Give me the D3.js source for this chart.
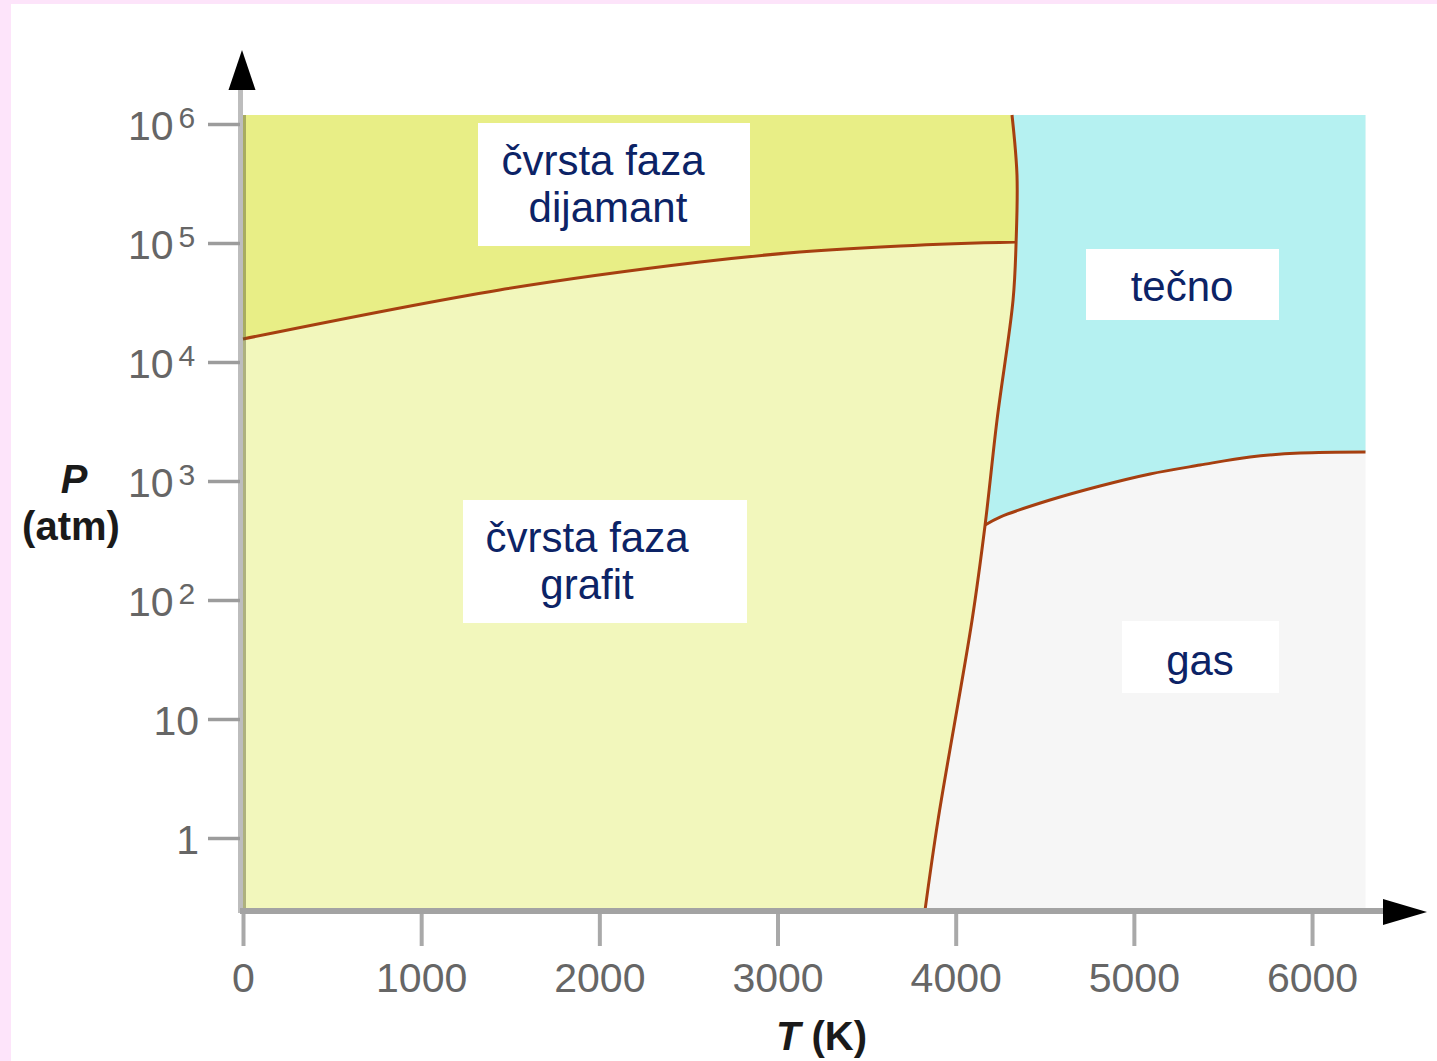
<!DOCTYPE html>
<html>
<head>
<meta charset="utf-8">
<script src="https://cdn.jsdelivr.net/npm/d3@7"></script>
<style>
  html, body { margin: 0; padding: 0; background: #fff; }
  svg { display: block; }
  text { font-family: "Liberation Sans", Arial, sans-serif; }
</style>
</head>
<body>
<svg id="chart" width="1437" height="1061"></svg>
<script>
// ---- Axis definitions ----
const tempDomain = [0, 6300];                       // T (K)
const tempTicks = [0, 1000, 2000, 3000, 4000, 5000, 6000];
const pressExtent = [0.248, 1.19e6];                // P (atm), log scale
const pressTicks = [1, 10, 100, 1e3, 1e4, 1e5, 1e6];
const pressTickBase = ["1", "10", "10", "10", "10", "10", "10"];
const pressTickExp = ["", "", "2", "3", "4", "5", "6"];

// ---- Phase boundaries of carbon ----
// diamond / graphite coexistence, left to right
const diamondGraphiteT = [0, 1440, 2565, 3125, 3690, 4339];
const diamondGraphiteP = [15600, 40300, 69200, 83900, 94400, 102000];
// solid / liquid (and solid / gas) line, top to bottom
const meltingT = [4316, 4344, 4339, 4322, 4232, 4165, 4092, 3901, 3828];
const meltingP = [1.19e6, 3.72e5, 102000, 33200, 3260, 427, 67.9, 1.42, 0.248];
// liquid / gas line, from the triple point to the right
const liquidGasT = [4165, 4249, 4529, 4810, 5091, 5371, 5652, 5933, 6300];
const liquidGasP = [427, 498, 692, 908, 1146, 1361, 1592, 1718, 1754];

// ---- Region labels ----
const regionNames = ["diamond", "graphite", "liquid", "gas"];
const regionLines = [["čvrsta faza", "dijamant"], ["čvrsta faza", "grafit"], ["tečno"], ["gas"]];

// ---- Styling ----
const W = 1437, H = 1061;
const colors = {
  diamond: "#e8ee86",
  graphite: "#f2f7bc",
  liquid: "#b5f1f1",
  gas: "#f6f6f6",
  boundary: "#a63f10",
  axis: "#a9a9a9",
  tickText: "#666666",
  label: "#0c2366",
  frame: "#fde4fa"
};

const svg = d3.select("#chart");
svg.append("rect").attr("width", W).attr("height", H).attr("fill", "#fff");
svg.append("rect").attr("x", 0).attr("y", 0).attr("width", 11).attr("height", H).attr("fill", colors.frame);
svg.append("rect").attr("x", 0).attr("y", 0).attr("width", W).attr("height", 4).attr("fill", colors.frame);

const x = d3.scaleLinear().domain(tempDomain).range([243, 1365.5]);
const y = d3.scaleLog().domain([1, 1e6]).range([838, 124]);

const [Tmin, Tmax] = tempDomain;
const [Pmin, Pmax] = pressExtent;

const zip = (T, P) => T.map((t, i) => [t, P[i]]);
const melt = zip(meltingT, meltingP);
const dg = zip(diamondGraphiteT, diamondGraphiteP);
const lg = zip(liquidGasT, liquidGasP);

const line = d3.line()
  .x(d => x(d[0]))
  .y(d => y(d[1]))
  .curve(d3.curveCatmullRom.alpha(0.5));

const pt = (t, p) => `${x(t)},${y(p)}`;

// axis line underneath the plot fill
svg.append("line")
  .attr("x1", 240.5).attr("x2", 240.5).attr("y1", 88).attr("y2", 913)
  .attr("stroke", "#bdbdbd").attr("stroke-width", 5);

const plot = svg.append("g");

// gas everywhere first
plot.append("rect")
  .attr("x", x(Tmin)).attr("y", y(Pmax))
  .attr("width", x(Tmax) - x(Tmin)).attr("height", y(Pmin) - y(Pmax))
  .attr("fill", colors.gas);

// liquid: above the liquid/gas line
plot.append("path")
  .attr("d", line(lg) + `L${pt(Tmax, Pmax)}L${pt(lg[0][0], Pmax)}Z`)
  .attr("fill", colors.liquid);

// solid phases: left of the melting line
const solidPath = line(melt) + `L${pt(Tmin, Pmin)}L${pt(Tmin, Pmax)}Z`;
plot.append("path").attr("d", solidPath).attr("fill", colors.graphite);

svg.append("defs").append("clipPath").attr("id", "solid-clip")
  .append("path").attr("d", solidPath);

// diamond: above the diamond/graphite line, inside the solid region
const dgLast = dg[dg.length - 1];
plot.append("path")
  .attr("clip-path", "url(#solid-clip)")
  .attr("d", line(dg) + `L${pt(Tmax, dgLast[1])}L${pt(Tmax, Pmax)}L${pt(Tmin, Pmax)}Z`)
  .attr("fill", colors.diamond);

// boundaries
[melt, dg, lg].forEach(pts => {
  plot.append("path")
    .attr("d", line(pts))
    .attr("fill", "none")
    .attr("stroke", colors.boundary)
    .attr("stroke-width", 3)
    .attr("stroke-linejoin", "round");
});

// darker rim of the y axis over the fill
svg.append("line")
  .attr("x1", 244.5).attr("x2", 244.5).attr("y1", y(Pmax)).attr("y2", y(Pmin))
  .attr("stroke", "rgba(90,90,50,0.45)").attr("stroke-width", 3);

// ---- X axis ----
const xAxis = svg.append("g")
  .attr("transform", "translate(0,910)")
  .call(d3.axisBottom(x).tickValues(tempTicks).tickSize(36).tickFormat(d3.format("d")));
xAxis.select(".domain").remove();
xAxis.selectAll(".tick line").attr("stroke", colors.axis).attr("stroke-width", 4);
xAxis.selectAll(".tick text")
  .attr("y", 82).attr("dy", 0)
  .attr("fill", colors.tickText)
  .style("font-size", "41px");

svg.append("line")
  .attr("x1", 240).attr("x2", 1388).attr("y1", 911).attr("y2", 911)
  .attr("stroke", "#a3a3a3").attr("stroke-width", 6);
svg.append("path")
  .attr("d", "M1427,912L1383,899L1383,925Z")
  .attr("fill", "#000");

// ---- Y axis ----
const yAxis = svg.append("g")
  .attr("transform", "translate(240,0)")
  .call(d3.axisLeft(y).tickValues(pressTicks).tickSize(32).tickFormat(""));
yAxis.select(".domain").remove();
yAxis.selectAll(".tick line").attr("stroke", "#9c9c9c").attr("stroke-width", 3.5);
yAxis.selectAll(".tick text").remove();

pressTicks.forEach((p, i) => {
  const exp = pressTickExp[i];
  const t = svg.append("text")
    .attr("y", y(p) + 16)
    .attr("fill", colors.tickText)
    .style("font-size", "41px");
  if (exp) {
    t.attr("x", 128).attr("text-anchor", "start");
    t.append("tspan").text(pressTickBase[i]);
    t.append("tspan").attr("dx", 5).attr("dy", -12).style("font-size", "30px").text(exp);
  } else {
    t.attr("x", 199).attr("text-anchor", "end").text(pressTickBase[i]);
  }
});

svg.append("path")
  .attr("d", "M242,50L228.5,90L255.5,90Z")
  .attr("fill", "#000");

// ---- Axis titles ----
const xTitle = svg.append("text")
  .attr("x", 776).attr("y", 1050)
  .attr("fill", "#1a1a1a")
  .style("font-size", "40px").style("font-weight", "bold");
xTitle.append("tspan").style("font-style", "italic").text("T");
xTitle.append("tspan").text(" (K)");

svg.append("text")
  .attr("x", 74).attr("y", 493).attr("text-anchor", "middle")
  .attr("fill", "#1a1a1a")
  .style("font-size", "40px").style("font-weight", "bold").style("font-style", "italic")
  .text("P");
svg.append("text")
  .attr("x", 71).attr("y", 540).attr("text-anchor", "middle")
  .attr("fill", "#1a1a1a")
  .style("font-size", "40px").style("font-weight", "bold")
  .text("(atm)");

// ---- Region label boxes ----
const boxLayout = {
  diamond:  { x: 478,  y: 123, w: 272, h: 123, cx: [603, 608], base: [175, 222] },
  graphite: { x: 463,  y: 500, w: 284, h: 123, cx: [587, 587], base: [552, 599] },
  liquid:   { x: 1086, y: 249, w: 193, h: 71,  cx: [1182],     base: [301] },
  gas:      { x: 1122, y: 621, w: 157, h: 72,  cx: [1200],     base: [675] }
};

regionNames.forEach((name, i) => {
  const b = boxLayout[name];
  const g = svg.append("g");
  g.append("rect")
    .attr("x", b.x).attr("y", b.y).attr("width", b.w).attr("height", b.h)
    .attr("fill", "#fff");
  regionLines[i].forEach((txt, j) => {
    g.append("text")
      .attr("x", b.cx[j]).attr("y", b.base[j])
      .attr("text-anchor", "middle")
      .attr("fill", colors.label)
      .style("font-size", "42px")
      .text(txt);
  });
});
</script>
</body>
</html>
